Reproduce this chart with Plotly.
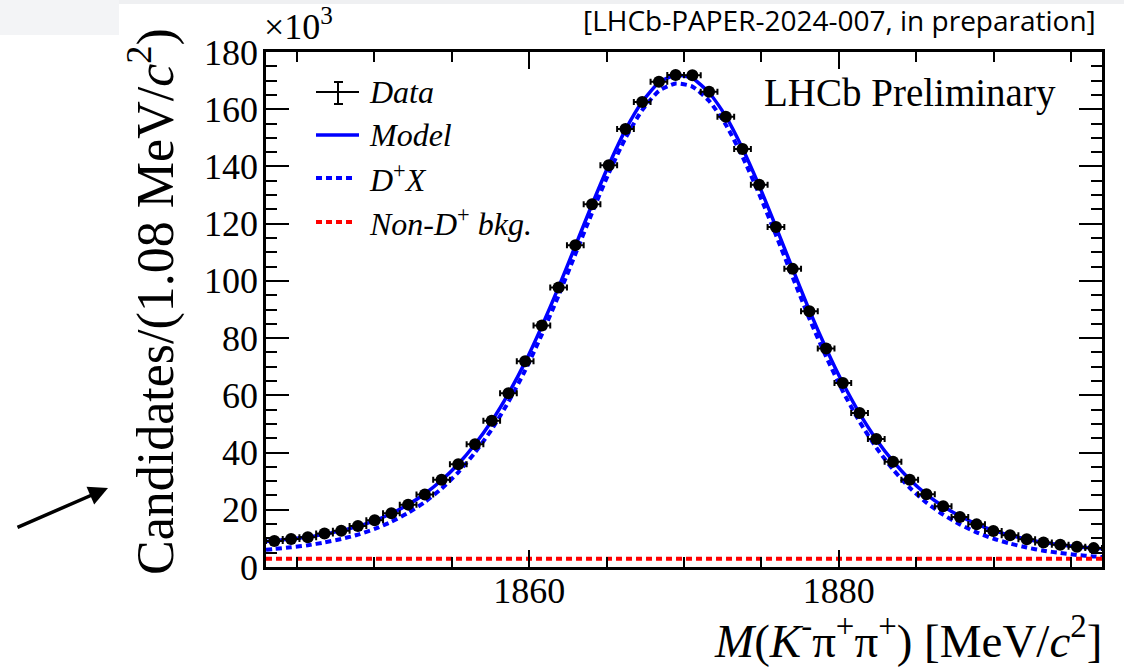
import numpy as np
import plotly.graph_objects as go

# Binning of the invariant-mass histogram
mass_lo, mass_hi = 1843.0, 1897.0
bin_width = 1.08
n_bins = 50
bin_centers = mass_lo + bin_width * (np.arange(n_bins) + 0.5)

# Candidates per bin, in units of 10^3
data_k = [9.1, 9.8, 10.4, 11.7, 12.7, 14.3, 16.3, 18.8, 21.8, 25.3,
          30.5, 35.9, 42.9, 51.1, 60.7, 71.9, 84.4, 97.7, 112.5, 126.8,
          140.4, 153.1, 162.5, 169.6, 172.0, 171.9, 166.1, 157.4, 146.1, 133.6,
          118.8, 104.2, 89.4, 76.4, 64.3, 53.8, 44.7, 36.8, 30.5, 25.4,
          21.2, 17.5, 14.9, 12.6, 11.1, 9.7, 8.6, 7.8, 7.1, 6.6]

# Fit curves sampled at the range edges and at each bin centre (units of 10^3)
curve_x = [mass_lo] + list(bin_centers) + [mass_hi]
model_k = [8.9,
           9.2, 9.8, 10.5, 11.5, 12.7, 14.2, 16.2, 18.7, 21.8, 25.6,
           30.3, 36.0, 42.9, 51.0, 60.6, 71.6, 84.2, 97.8, 112.2, 126.7,
           140.5, 152.8, 162.6, 169.3, 171.9, 170.8, 165.8, 157.5, 146.3, 133.2,
           118.9, 104.2, 89.7, 76.4, 64.3, 53.7, 44.6, 37.0, 30.6, 25.4,
           21.2, 17.8, 15.0, 12.8, 11.1, 9.7, 8.6, 7.8, 7.1, 6.6,
           6.4]
dplusx_k = [6.0,
            6.3, 6.9, 7.6, 8.6, 9.8, 11.3, 13.3, 15.8, 18.9, 22.7,
            27.4, 33.1, 40.0, 48.1, 57.7, 68.7, 81.3, 94.9, 109.3, 123.8,
            137.6, 149.9, 159.7, 166.4, 169.0, 167.9, 162.9, 154.6, 143.4, 130.3,
            116.0, 101.3, 86.8, 73.5, 61.4, 50.8, 41.7, 34.1, 27.7, 22.5,
            18.3, 14.9, 12.1, 9.9, 8.2, 6.8, 5.7, 4.9, 4.2, 3.7,
            3.5]
bkg_x = [mass_lo, mass_hi]
bkg_k = [2.9, 2.9]

SERIF = "Liberation Serif"
BLUE = "#0000ff"
RED = "#ff0000"
DOT = "6px,4px"

# Plot frame in pixels
L, R, T, B = 266, 1102, 52, 567
W, H = 1124, 668


def px(x):
    return (x - L) / (R - L)


def py(y):
    return (B - y) / (B - T)


fig = go.Figure()

fig.add_trace(go.Scatter(
    x=curve_x, y=model_k, mode="lines", name="Model",
    line=dict(color=BLUE, width=3.5, shape="spline", smoothing=0.6)))
fig.add_trace(go.Scatter(
    x=curve_x, y=dplusx_k, mode="lines", name="D+X",
    line=dict(color=BLUE, width=4, dash=DOT, shape="spline", smoothing=0.6)))
fig.add_trace(go.Scatter(
    x=bkg_x, y=bkg_k, mode="lines", name="Non-D+ bkg.",
    line=dict(color=RED, width=4, dash=DOT)))
fig.add_trace(go.Scatter(
    x=bin_centers, y=data_k, mode="markers", name="Data",
    marker=dict(color="black", size=12),
    error_x=dict(type="constant", value=bin_width / 2, color="black",
                 thickness=2, width=3)))

axis_common = dict(
    showgrid=False, zeroline=False, showline=True, linecolor="black",
    linewidth=2.5, mirror="ticks", ticks="inside", tickcolor="black",
    tickwidth=2, tickfont=dict(family=SERIF, size=36, color="black"),
)

fig.update_xaxes(range=[mass_lo, mass_hi], tick0=1860, dtick=20, ticklen=17,
                 ticklabelstandoff=-10,
                 minor=dict(dtick=5, tick0=1845, ticks="inside", ticklen=10,
                            tickwidth=2, tickcolor="black"),
                 **axis_common)
fig.update_yaxes(range=[0, 180], tick0=0, dtick=20, ticklen=23,
                 ticklabelstandoff=-2,
                 minor=dict(dtick=5, tick0=0, ticks="inside", ticklen=11,
                            tickwidth=2, tickcolor="black"),
                 **axis_common)

annotations = []
shapes = []

# Light slide-style background strips around the figure
shapes.append(dict(type="rect", xref="paper", yref="paper", x0=px(0), x1=px(W),
                   y0=py(0), y1=py(4), fillcolor="#eff0f2", line=dict(width=0),
                   layer="below"))
shapes.append(dict(type="rect", xref="paper", yref="paper", x0=px(0), x1=px(119),
                   y0=py(0), y1=py(35), fillcolor="#f3f4f6", line=dict(width=0),
                   layer="below"))

# Axis titles
annotations.append(dict(
    text="Candidates/(1.08 MeV/<i>c</i><sup>2</sup>)", xref="paper", yref="paper",
    x=px(152), y=py(302), textangle=-90, showarrow=False,
    xanchor="center", yanchor="middle",
    font=dict(family=SERIF, size=52, color="black")))
annotations.append(dict(
    text="<i>M</i>(<i>K</i><sup>-</sup>π<sup>+</sup>π<sup>+</sup>) [MeV/<i>c</i><sup>2</sup>]",
    xref="paper", yref="paper", x=px(1104), y=py(637), showarrow=False,
    xanchor="right", yanchor="middle",
    font=dict(family=SERIF, size=47, color="black")))

# Exponent label of the y axis
annotations.append(dict(
    text="×10<sup>3</sup>", xref="paper", yref="paper", x=px(262), y=py(49),
    showarrow=False, xanchor="left", yanchor="bottom",
    font=dict(family=SERIF, size=36, color="black")))

# Header and experiment label
annotations.append(dict(
    text="[LHCb-PAPER-2024-007, in preparation]", xref="paper", yref="paper",
    x=px(1098), y=py(20), showarrow=False, xanchor="right", yanchor="middle",
    font=dict(family="Open Sans", size=28, color="black")))
annotations.append(dict(
    text="LHCb Preliminary", xref="paper", yref="paper",
    x=px(1058), y=py(93), showarrow=False, xanchor="right", yanchor="middle",
    font=dict(family=SERIF, size=39, color="black")))

# Pointer arrow at the y-axis title
annotations.append(dict(
    text="", xref="paper", yref="paper", x=px(108), y=py(488),
    ax=-92, ay=40, showarrow=True, arrowhead=2, arrowsize=1.1,
    arrowwidth=3.5, arrowcolor="black", standoff=0, startstandoff=0))

# Legend drawn by hand (ROOT style)
leg_x0, leg_x1, leg_text = 316, 359, 367
rows = [92, 135, 178, 222]
labels = ["<i>Data</i>", "<i>Model</i>", "<i>D</i><sup>+</sup><i>X</i>",
          "<i>Non-D</i><sup>+</sup><i> bkg.</i>"]

# Data: horizontal bar with a capped vertical error bar
shapes.append(dict(type="line", xref="paper", yref="paper",
                   x0=px(leg_x0), x1=px(leg_x1), y0=py(rows[0]), y1=py(rows[0]),
                   line=dict(color="black", width=2)))
shapes.append(dict(type="line", xref="paper", yref="paper",
                   x0=px(338), x1=px(338), y0=py(82), y1=py(104),
                   line=dict(color="black", width=2)))
for cy in (82, 104):
    shapes.append(dict(type="line", xref="paper", yref="paper",
                       x0=px(334), x1=px(343), y0=py(cy), y1=py(cy),
                       line=dict(color="black", width=2)))
# Model, D+X, background line samples
shapes.append(dict(type="line", xref="paper", yref="paper",
                   x0=px(leg_x0), x1=px(leg_x1), y0=py(rows[1]), y1=py(rows[1]),
                   line=dict(color=BLUE, width=3.5)))
shapes.append(dict(type="line", xref="paper", yref="paper",
                   x0=px(leg_x0), x1=px(356), y0=py(rows[2]), y1=py(rows[2]),
                   line=dict(color=BLUE, width=4, dash=DOT)))
shapes.append(dict(type="line", xref="paper", yref="paper",
                   x0=px(leg_x0), x1=px(356), y0=py(rows[3]), y1=py(rows[3]),
                   line=dict(color=RED, width=4, dash=DOT)))

for row, lab in zip(rows, labels):
    annotations.append(dict(
        text=lab, xref="paper", yref="paper", x=px(leg_text), y=py(row),
        showarrow=False, xanchor="left", yanchor="middle",
        font=dict(family=SERIF, size=32, color="black")))

fig.update_layout(
    width=W, height=H,
    margin=dict(l=L, r=W - R, t=T, b=H - B),
    paper_bgcolor="white", plot_bgcolor="white",
    showlegend=False,
    annotations=annotations, shapes=shapes,
)

fig.write_html("out.html")
